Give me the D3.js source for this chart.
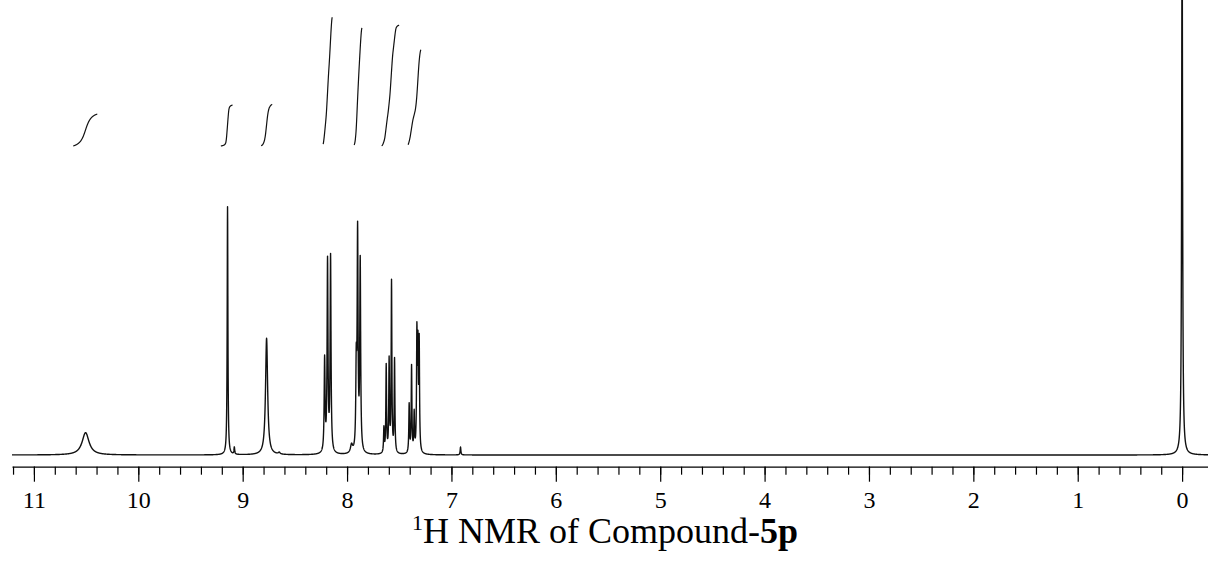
<!DOCTYPE html>
<html>
<head>
<meta charset="utf-8">
<script src="https://cdn.jsdelivr.net/npm/d3@7"></script>
<style>
  body { margin: 0; background: #fff; }
  text { font-family: "Liberation Serif", "Times New Roman", serif; }
</style>
</head>
<body>
<div id="chart"></div>
<script>
// PEAK LIST
// position in ppm, height relative to the 9.15 singlet (= 100), half width in ppm
var peakPpm    = [10.505, 9.145, 9.080, 8.771, 8.650, 8.215, 8.187, 8.158, 7.957, 7.912, 7.899, 7.874,
                  7.647, 7.625, 7.597, 7.574, 7.545, 7.405, 7.382, 7.357, 7.331, 7.321, 7.309, 6.913, 0.000];
var peakHeight = [9.0, 100, 3.3, 47.0, 1.2, 40.3, 80.1, 81.2, 4.8, 45, 94.2, 80.4,
                  11.8, 36.9, 39.9, 70.8, 39.3, 21.1, 36.5, 18.4, 53.7, 50.3, 49.0, 3.2, 220];
var peakWidth  = [0.040, 0.004, 0.004, 0.012, 0.010, 0.005, 0.005, 0.005, 0.012, 0.005, 0.005, 0.005,
                  0.004, 0.004, 0.004, 0.004, 0.004, 0.004, 0.004, 0.004, 0.004, 0.004, 0.004, 0.004, 0.005];

// integral regions (ppm) and their values (relative to the 9.15 singlet = 1)
var intFrom  = [10.623, 9.209, 8.823, 8.229, 7.932, 7.669, 7.415];
var intTo    = [10.393, 9.097, 8.717, 8.143, 7.858, 7.501, 7.293];
var intValue = [0.78, 1.00, 1.02, 3.20, 2.93, 2.95, 2.37];

// axis ticks
var majorTicks = [11, 10, 9, 8, 7, 6, 5, 4, 3, 2, 1, 0];
var minorTicks = d3.range(56, -1, -1).map(function(i) { return i / 5; });

var ppmStart = 11.21, ppmEnd = -0.25, step = 0.001;

var W = 1208, H = 563;
var svg = d3.select('#chart').append('svg').attr('width', W).attr('height', H);

var x = d3.scaleLinear().domain([ppmStart, ppmEnd]).range([12, 1208.2]);
var y = d3.scaleLinear().domain([0, 100]).range([455, 206.7]);
var yInt = d3.scaleLinear().domain([0, 1]).range([146, 105]);
var axisY = 466.7;
var serif = '"Liberation Serif", "Times New Roman", serif';

function lor(p, c, w) {
  var d = (p - c) / w;
  return 1 / (1 + d * d);
}

// solve amplitudes so the summed curve hits the read heights at each line
var amp = peakHeight.slice();
for (var it = 0; it < 60; it++) {
  for (var i = 0; i < amp.length; i++) {
    var s = 0;
    for (var j = 0; j < amp.length; j++) {
      if (j != i) s += amp[j] * lor(peakPpm[i], peakPpm[j], peakWidth[j]);
    }
    amp[i] = Math.max(0, peakHeight[i] - s);
  }
}

function spectrumAt(p) {
  var v = 0;
  for (var k = 0; k < amp.length; k++) v += amp[k] * lor(p, peakPpm[k], peakWidth[k]);
  return v;
}

var n = Math.round((ppmStart - ppmEnd) / step);
var spec = d3.range(n + 1).map(function(i) {
  var p = ppmStart - i * step;
  return [p, spectrumAt(p)];
});

svg.append('clipPath').attr('id', 'plotclip')
  .append('rect').attr('x', 0).attr('y', 0).attr('width', W).attr('height', axisY - 1);

var line = d3.line().x(function(d) { return x(d[0]); }).y(function(d) { return y(d[1]); });

svg.append('path')
  .datum(spec)
  .attr('clip-path', 'url(#plotclip)')
  .attr('fill', 'none')
  .attr('stroke', '#111')
  .attr('stroke-width', 1.4)
  .attr('stroke-linejoin', 'round')
  .attr('d', line);

// INTEGRALS
var intLine = d3.line().x(function(d) { return x(d[0]); }).y(function(d) { return yInt(d[1]); })
  .curve(d3.curveBasis);

intFrom.forEach(function(from, r) {
  var to = intTo[r];
  var m = Math.round((from - to) / step);
  var cum = [0];
  for (var i = 1; i <= m; i++) cum.push(cum[i - 1] + spectrumAt(from - i * step));
  var total = cum[m];
  var half = 12; // smoothing half window in samples
  var pts = [];
  for (var i = 0; i <= m; i += 2) {
    var acc = 0, c = 0;
    for (var k = i - half; k <= i + half; k++) {
      acc += cum[Math.max(0, Math.min(m, k))];
      c++;
    }
    pts.push([from - i * step, acc / c / total * intValue[r]]);
  }
  svg.append('path')
    .datum(pts)
    .attr('fill', 'none')
    .attr('stroke', '#111')
    .attr('stroke-width', 1.2)
    .attr('d', intLine);
});

// AXIS
var axisG = svg.append('g').attr('transform', 'translate(0,' + axisY + ')');

axisG.call(d3.axisBottom(x).tickValues(minorTicks).tickSize(8).tickSizeOuter(0).tickFormat(''));
var majorG = axisG.append('g');
majorG.call(d3.axisBottom(x).tickValues(majorTicks).tickSize(15).tickSizeOuter(0)
  .tickFormat(d3.format('d')));
majorG.select('.domain').remove();
axisG.attr('font-family', serif).attr('font-size', 24);
majorG.attr('font-family', serif).attr('font-size', 24);
axisG.selectAll('path, line').attr('stroke', '#000').attr('stroke-width', 1.2);
majorG.selectAll('text')
  .attr('y', 41.3)
  .attr('dy', null)
  .attr('fill', '#000');

// TITLE
var title = svg.append('text')
  .attr('x', 605)
  .attr('y', 543)
  .attr('text-anchor', 'middle')
  .attr('font-family', serif)
  .attr('font-size', 36)
  .attr('fill', '#000');
title.append('tspan').text('1').attr('font-size', 22).attr('dy', -13);
title.append('tspan').text('H NMR of Compound-').attr('dy', 13);
title.append('tspan').text('5p').attr('font-weight', 'bold');
</script>
</body>
</html>
